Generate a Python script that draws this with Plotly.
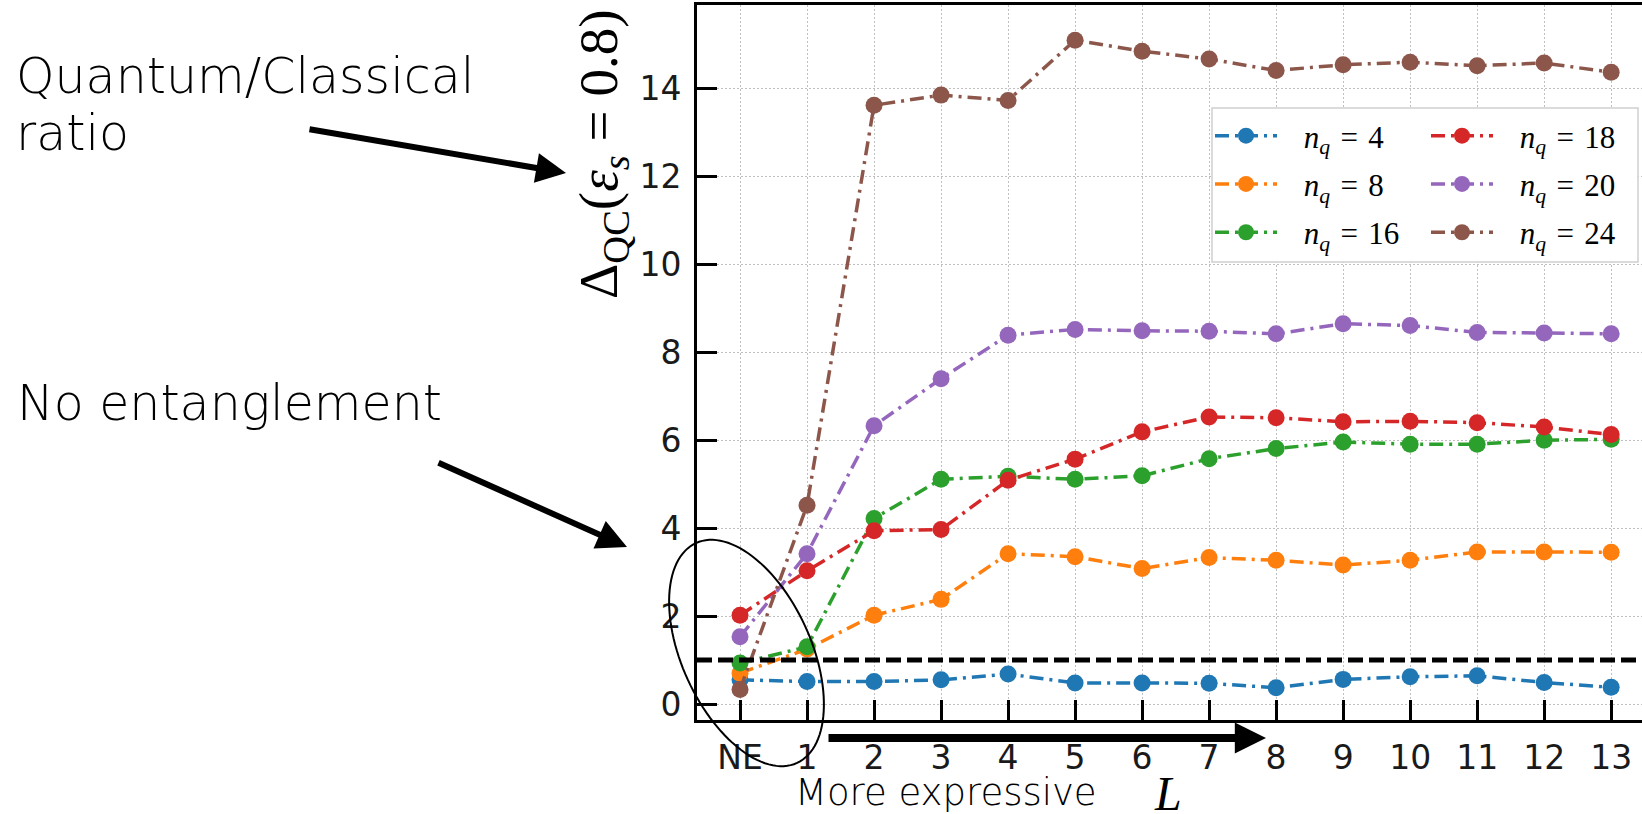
import numpy as np
import plotly.graph_objects as go

# ---------------- data ----------------
L_labels = ["NE", "1", "2", "3", "4", "5", "6", "7", "8", "9", "10", "11", "12", "13"]

nq4  = [0.55, 0.51, 0.51, 0.55, 0.68, 0.48, 0.48, 0.47, 0.37, 0.56, 0.62, 0.64, 0.49, 0.38]
nq8  = [0.70, 1.25, 2.02, 2.38, 3.42, 3.35, 3.08, 3.33, 3.27, 3.16, 3.27, 3.46, 3.46, 3.45]
nq16 = [0.93, 1.30, 4.22, 5.11, 5.18, 5.11, 5.19, 5.58, 5.81, 5.96, 5.91, 5.91, 6.00, 6.02]
nq18 = [2.02, 3.03, 3.94, 3.97, 5.09, 5.57, 6.19, 6.53, 6.51, 6.42, 6.43, 6.40, 6.30, 6.13]
nq20 = [1.53, 3.42, 6.33, 7.40, 8.39, 8.52, 8.49, 8.48, 8.42, 8.65, 8.61, 8.45, 8.44, 8.42]
nq24 = [0.33, 4.52, 13.62, 13.85, 13.73, 15.10, 14.85, 14.67, 14.41, 14.54, 14.60, 14.52, 14.58, 14.37]

series_labels = ["4", "8", "16", "18", "20", "24"]
series_values = [nq4, nq8, nq16, nq18, nq20, nq24]
series_colors = ["#1f77b4", "#ff7f0e", "#2ca02c", "#d62728", "#9467bd", "#8c564b"]
series_legend = ["legend", "legend", "legend", "legend2", "legend2", "legend2"]

y_ticks = [0, 2, 4, 6, 8, 10, 12, 14]
threshold = 1.0

# ---------------- layout geometry (pixels) ----------------
W, H = 1642, 814
X0, X1 = 697, 1642   # plot area left/right
Y0, Y1 = 5, 720      # plot area top/bottom


def px(x):
    return (x - X0) / (X1 - X0)


def py(y):
    return (Y1 - y) / (Y1 - Y0)


fig = go.Figure()

for lab, vals, col, lg in zip(series_labels, series_values, series_colors, series_legend):
    fig.add_trace(go.Scatter(
        x=L_labels, y=vals, mode="lines+markers",
        name=f"\u00a0\u00a0\u2009<i>n</i><sub><i>q</i></sub>\u2004=\u2004{lab}",
        line=dict(color=col, width=3.5, dash="14px,6px,3px,6px"),
        marker=dict(color=col, size=17),
        legend=lg, legendgroup=lab,
    ))

text_font = dict(family="DejaVu Sans", size=49, color="black", weight=200)

annotations = [
    dict(text="Quantum/Classical", x=px(14), y=py(76), xanchor="left", yanchor="middle",
         font=text_font),
    dict(text="ratio", x=px(14), y=py(133), xanchor="left", yanchor="middle", font=text_font),
    dict(text="No entanglement", x=px(15), y=py(403), xanchor="left", yanchor="middle",
         font=text_font),
    dict(text="More expressive", x=px(793), y=py(792), xanchor="left", yanchor="middle",
         font=dict(family="DejaVu Sans", size=37, color="black", weight=200)),
    dict(text="<i>L</i>", x=px(1168), y=py(793), xanchor="center", yanchor="middle",
         font=dict(family="Liberation Serif", size=48, color="black")),
    dict(text="Δ<sub>QC</sub>(<i>ε</i><sub><i>s</i></sub> = 0.8)", x=px(602), y=py(155),
         xanchor="center", yanchor="middle", textangle=-90,
         font=dict(family="Liberation Serif", size=55, color="black")),
]

# arrows: (tail_x, tail_y, tip_x, tip_y, width, size)
arrows = [
    (308, 129, 566, 173, 6, 1.0),
    (437, 462, 627, 547, 6, 1.0),
    (827, 738, 1266, 738, 8, 0.78),
]
for tx, ty, hx, hy, w, s in arrows:
    annotations.append(dict(
        text="", x=px(hx), y=py(hy), xref="paper", yref="paper",
        ax=tx - hx, ay=ty - hy, axref="pixel", ayref="pixel",
        showarrow=True, arrowhead=2, arrowwidth=w, arrowsize=s, arrowcolor="black",
        standoff=0,
    ))

for a in annotations:
    a.setdefault("xref", "paper")
    a.setdefault("yref", "paper")
    a.setdefault("showarrow", False)

# rotated ellipse around the "NE" region
cx, cy, ea, eb, th = 746.5, 653.0, 121.0, 64.5, np.deg2rad(24.7)
t = np.linspace(0, 2 * np.pi, 121)
ex = cx + ea * np.cos(t) * np.sin(th) + eb * np.sin(t) * np.cos(th)
ey = cy + ea * np.cos(t) * np.cos(th) - eb * np.sin(t) * np.sin(th)
path = "M " + " L ".join(f"{px(a):.5f},{py(b):.5f}" for a, b in zip(ex, ey)) + " Z"

shapes = [
    dict(type="line", xref="paper", yref="y", x0=0, x1=1, y0=threshold, y1=threshold,
         line=dict(color="black", width=5, dash="15px,6px"), layer="above"),
    dict(type="path", xref="paper", yref="paper", path=path,
         line=dict(color="black", width=2), layer="above"),
    dict(type="rect", xref="paper", yref="paper", x0=px(1212), x1=px(1638),
         y0=py(262), y1=py(108), fillcolor="white",
         line=dict(color="#cfcfcf", width=1.5), layer="above"),
]

legend_common = dict(
    bgcolor="rgba(0,0,0,0)", borderwidth=0, orientation="v",
    font=dict(family="Liberation Serif", size=31, color="black"),
    tracegroupgap=5, xanchor="left", yanchor="top", itemsizing="trace",
    itemwidth=62,
)

axis_common = dict(
    showline=True, linecolor="black", linewidth=3,
    ticks="inside", ticklen=20, tickwidth=3, tickcolor="black",
    showgrid=True, gridcolor="#c0c0c0", griddash="2px,2px", gridwidth=1,
    tickfont=dict(family="DejaVu Sans", size=33, color="#1a1a1a"),
    ticklabelstandoff=6, automargin=False,
)

fig.update_layout(
    width=W, height=H,
    margin=dict(l=X0, r=W - X1, t=Y0, b=H - Y1, pad=0, autoexpand=False),
    paper_bgcolor="white", plot_bgcolor="white",
    showlegend=True,
    legend=dict(x=px(1210), y=py(109), **legend_common),
    legend2=dict(x=px(1426), y=py(109), **legend_common),
    annotations=annotations,
    shapes=shapes,
    xaxis=dict(type="category", range=[-0.642, 13.46], mirror=True, **axis_common),
    yaxis=dict(range=[-0.364, 15.9], tickvals=y_ticks, mirror=False, zeroline=False,
               **axis_common),
)

fig.write_html(
    "out.html",
    config={"displayModeBar": False},
    post_script="document.body.style.margin='0';document.body.style.padding='0';"
                "document.body.style.overflow='hidden';",
)
